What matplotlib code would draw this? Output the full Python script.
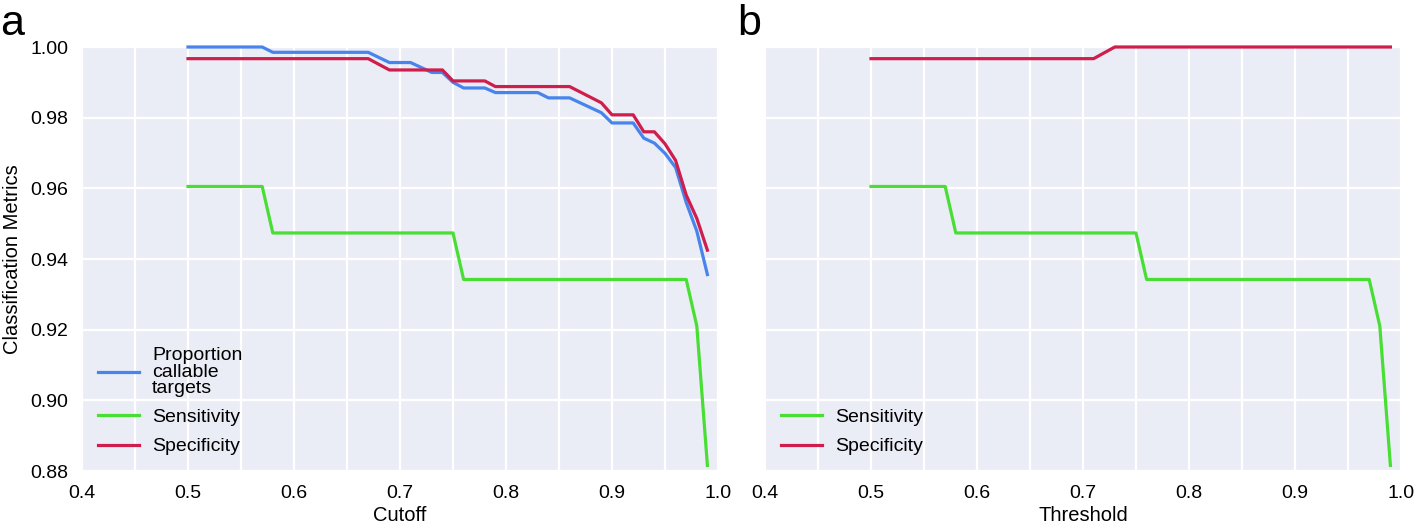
import numpy as np
import matplotlib
matplotlib.use("Agg")
import matplotlib.pyplot as plt
from matplotlib.ticker import MultipleLocator

plt.rcParams['font.family'] = ['Liberation Sans', 'DejaVu Sans']

# panel a: breakpoints (cutoff, value)
cut_prop = [0.50, 0.57, 0.58, 0.67, 0.69, 0.71, 0.73, 0.74, 0.75, 0.76, 0.78, 0.79, 0.83,
            0.84, 0.86, 0.89, 0.90, 0.92, 0.93, 0.94, 0.95, 0.96, 0.97, 0.98, 0.99]
prop_callable = [1.000, 1.000, 0.9985, 0.9985, 0.9956, 0.9956, 0.9928, 0.9928, 0.9900, 0.9884,
                 0.9884, 0.9871, 0.9871, 0.9856, 0.9856, 0.9814, 0.9785, 0.9785, 0.9742,
                 0.9728, 0.9699, 0.9659, 0.9560, 0.9479, 0.9356]

cut_spec_a = [0.50, 0.67, 0.69, 0.74, 0.75, 0.78, 0.79, 0.86, 0.89, 0.90, 0.92, 0.93, 0.94,
              0.95, 0.96, 0.97, 0.98, 0.99]
spec_a = [0.9967, 0.9967, 0.9935, 0.9935, 0.9904, 0.9904, 0.9888, 0.9888, 0.9842, 0.9808,
          0.9808, 0.9760, 0.9760, 0.9726, 0.9679, 0.9581, 0.9515, 0.9425]

# sensitivity (same in both panels)
cut_sens = [0.50, 0.57, 0.58, 0.75, 0.76, 0.97, 0.98, 0.99]
sens = [73/76, 73/76, 72/76, 72/76, 71/76, 71/76, 70/76, 67/76]

# panel b specificity
thr_spec_b = [0.50, 0.71, 0.73, 0.99]
spec_b = [0.9967, 0.9967, 1.000, 1.000]

blue = '#4784ec'
green = '#48de34'
red = '#cf1d4c'

fig = plt.figure(figsize=(14.15, 5.29), dpi=100)
ax1 = fig.add_axes([82/1415, 1 - 471/529, (718 - 82)/1415, (471 - 47)/529])
ax2 = fig.add_axes([765/1415, 1 - 471/529, (1401 - 765)/1415, (471 - 47)/529])

lw = 2.3
ax1.plot(cut_prop, prop_callable, color=blue, lw=lw, label='Proportion\ncallable\ntargets', clip_on=False)
ax1.plot(cut_sens, sens, color=green, lw=lw, label='Sensitivity', clip_on=False)
ax1.plot(cut_spec_a, spec_a, color=red, lw=lw, label='Specificity', clip_on=False)

ax2.plot(cut_sens, sens, color=green, lw=lw, label='Sensitivity', clip_on=False)
ax2.plot(thr_spec_b, spec_b, color=red, lw=lw, label='Specificity', clip_on=False)

for ax in (ax1, ax2):
    ax.set_facecolor('#ebedf6')
    ax.set_xlim(0.4, 1.0)
    ax.set_ylim(0.88, 1.00)
    ax.xaxis.set_major_locator(MultipleLocator(0.1))
    ax.xaxis.set_minor_locator(MultipleLocator(0.05))
    ax.yaxis.set_major_locator(MultipleLocator(0.02))
    ax.grid(True, which='both', axis='x', color='white', lw=1.6)
    ax.grid(True, which='major', axis='y', color='white', lw=1.6)
    ax.set_axisbelow(True)
    for s in ax.spines.values():
        s.set_visible(False)
    ax.tick_params(which='both', length=0, labelsize=14, pad=10)
    ax.xaxis.set_major_formatter(plt.FuncFormatter(lambda v, p: '%.1f' % v))
    ax.yaxis.set_major_formatter(plt.FuncFormatter(lambda v, p: '%.2f' % v))
    leg = ax.legend(loc='lower left', frameon=False, fontsize=14, handlelength=2.15,
                    handletextpad=0.65, borderaxespad=0.4, labelspacing=0.6,
                    bbox_to_anchor=(0.0, 0.0))
    for t in leg.get_texts():
        t.set_linespacing(0.95)

ax2.tick_params(axis='y', labelleft=False)

ax1.set_xlabel('Cutoff', fontsize=14.5, labelpad=3)
ax2.set_xlabel('Threshold', fontsize=14.5, labelpad=3)
ax1.set_ylabel('Classification Metrics', fontsize=14.5, labelpad=6)

fig.text(0.0, 0.955, 'a', fontsize=31, va='center', ha='left')
fig.text(737/1415, 0.955, 'b', fontsize=31, va='center', ha='left')

fig.savefig('out.png', dpi=100)
